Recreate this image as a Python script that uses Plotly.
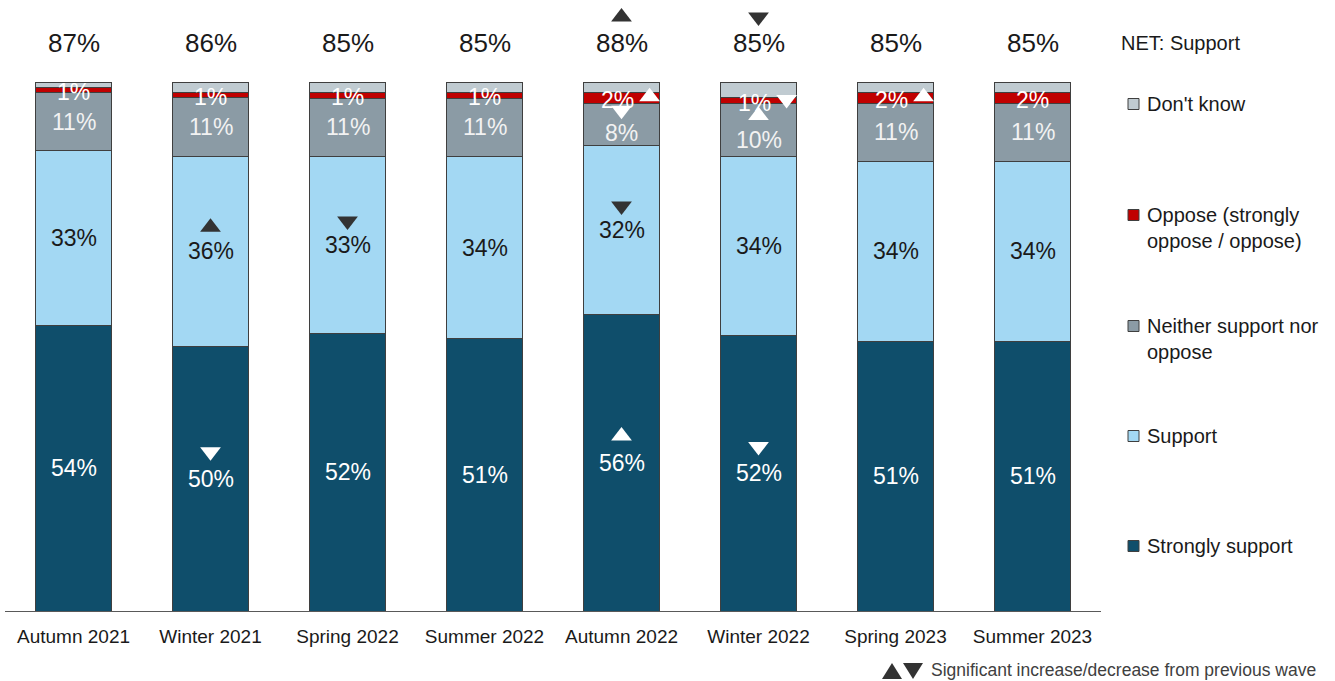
import plotly.graph_objects as go

# ---------------- data ----------------
waves = ["Autumn 2021", "Winter 2021", "Spring 2022", "Summer 2022",
         "Autumn 2022", "Winter 2022", "Spring 2023", "Summer 2023"]
strongly_support = [54, 50, 52, 51, 56, 52, 51, 51]
support = [33, 36, 33, 34, 32, 34, 34, 34]
neither = [11, 11, 11, 11, 8, 10, 11, 11]
oppose = [1, 1, 1, 1, 2, 1, 2, 2]
dont_know = [1, 2, 2, 2, 2, 3, 2, 2]
net_support = [87, 86, 85, 85, 88, 85, 85, 85]

# significance vs previous wave: "up", "down" or None
sig_net = [None, None, None, None, "up", "down", None, None]
sig_strongly = [None, "down", None, None, "up", "down", None, None]
sig_support = [None, "up", "down", None, "down", None, None, None]
sig_neither = [None, None, None, None, "down", "up", None, None]
sig_oppose = [None, None, None, None, "up", "down", "up", None]

series_names = ["Strongly support", "Support", "Neither support nor<br>oppose",
                "Oppose (strongly<br>oppose / oppose)", "Don't know"]

# ---------------- style ----------------
C_STRONG = "#0F4E6B"
C_SUPPORT = "#A3D8F3"
C_NEITHER = "#8B9BA5"
C_OPPOSE = "#C00000"
C_DK = "#C0CBD1"
C_EDGE = "#3F3F3F"
C_DARK_TRI = "#333333"
FONT = "Liberation Sans, Arial, sans-serif"

W, H = 1335, 681
ML, MR, MT, MB = 5, 234, 0, 70
PW = W - ML - MR
PH = H - MT - MB
Y_TOP = 115.5
PX_PER_UNIT = PH / Y_TOP


def px_x(px):
    return (px - ML) / PW


def px_y(py):
    return (H - MB - py) / PH


def unit_from_px(p):
    return p / PX_PER_UNIT


fig = go.Figure()

series = [
    (series_names[0], strongly_support, C_STRONG, "#ffffff", True),
    (series_names[1], support, C_SUPPORT, "#1a1a1a", True),
    (series_names[2], neither, C_NEITHER, "#f2f2f2", True),
    (series_names[3], oppose, C_OPPOSE, "#ffffff", True),
    (series_names[4], dont_know, C_DK, "#ffffff", False),
]

x_idx = list(range(len(waves)))
for name, vals, col, tcol, lab in series:
    fig.add_trace(go.Bar(
        x=x_idx, y=vals, name=name, marker=dict(color=col, line=dict(color=C_EDGE, width=1)),
        width=0.56, showlegend=False, hoverinfo="skip",
    ))

fig.update_layout(barmode="stack", barnorm="percent")

# normalized cumulative positions (same as barnorm)
totals = [sum(v) for v in zip(strongly_support, support, neither, oppose, dont_know)]
cum = [0.0] * len(waves)
mids = []
for name, vals, col, tcol, lab in series:
    m = []
    for i, v in enumerate(vals):
        n = v * 100.0 / totals[i]
        m.append(cum[i] + n / 2)
        cum[i] += n
    mids.append(m)

annotations = []
label_shift = {2: [0, 0, 0, 0, -9, -10, 0, 0], 3: [-2] * 8}
for s, (name, vals, col, tcol, lab) in enumerate(series):
    if not lab:
        continue
    for i, v in enumerate(vals):
        ysh = label_shift.get(s, [0] * 8)[i]
        xoff = -0.03 if s == 3 and sig_oppose[i] else 0
        annotations.append(dict(
            x=i + xoff, y=mids[s][i], xref="x", yref="y", text=f"{v}%", showarrow=False,
            yanchor="middle", font=dict(family=FONT, size=23, color=tcol), yshift=ysh,
        ))

# significance triangles within bars
tri_x, tri_y, tri_sym, tri_col = [], [], [], []
sig_specs = [
    (0, sig_strongly, 0.0, 27, "#ffffff"),
    (1, sig_support, 0.0, 24, C_DARK_TRI),
    (2, sig_neither, 0.0, 14, "#ffffff"),
    (3, sig_oppose, 0.205, 1, "#ffffff"),
]
for s, sig, dx, dy_px, col in sig_specs:
    for i, d in enumerate(sig):
        if d is None:
            continue
        tri_x.append(i + dx)
        tri_y.append(mids[s][i] + unit_from_px(dy_px))
        tri_sym.append("triangle-up" if d == "up" else "triangle-down")
        tri_col.append(col)

# net support labels and their triangles
net_y = unit_from_px(H - MB - 43)
for i, v in enumerate(net_support):
    annotations.append(dict(
        x=i, y=net_y, xref="x", yref="y", text=f"{v}%", showarrow=False,
        yanchor="middle", font=dict(family=FONT, size=26, color="#1a1a1a"),
    ))
    if sig_net[i]:
        tri_x.append(i)
        tri_y.append(unit_from_px(H - MB - 17))
        tri_sym.append("triangle-up" if sig_net[i] == "up" else "triangle-down")
        tri_col.append(C_DARK_TRI)

fig.add_trace(go.Scatter(
    x=tri_x, y=tri_y, mode="markers", showlegend=False, hoverinfo="skip",
    marker=dict(symbol=tri_sym, size=18, color=tri_col, line=dict(width=0)),
    cliponaxis=False,
))

annotations.append(dict(
    x=px_x(1119), y=px_y(43), xref="paper", yref="paper", text="NET: Support",
    showarrow=False, xanchor="left", yanchor="middle",
    font=dict(family=FONT, size=20, color="#1a1a1a"),
))

# manual legend (top to bottom: Don't know ... Strongly support)
leg_rows = [(series_names[4], C_DK, 104), (series_names[3], C_OPPOSE, 215),
            (series_names[2], C_NEITHER, 326), (series_names[1], C_SUPPORT, 436),
            (series_names[0], C_STRONG, 546)]
shapes = []
for name, col, yc in leg_rows:
    shapes.append(dict(
        type="rect", xref="paper", yref="paper",
        x0=px_x(1128), x1=px_x(1139), y0=px_y(yc + 5.5), y1=px_y(yc - 5.5),
        fillcolor=col, line=dict(color=C_EDGE, width=1),
    ))
    annotations.append(dict(
        x=px_x(1145), y=px_y(yc - 13), xref="paper", yref="paper", text=name,
        showarrow=False, xanchor="left", yanchor="top", align="left",
        font=dict(family=FONT, size=20, color="#1a1a1a"),
    ))

# footnote key: two triangles + text
def tri_path(x0, x1, ytop, ybot, up):
    xa, xb, xm = px_x(x0), px_x(x1), px_x((x0 + x1) / 2)
    yt, yb = px_y(ytop), px_y(ybot)
    if up:
        return f"M{xa},{yb} L{xb},{yb} L{xm},{yt} Z"
    return f"M{xa},{yt} L{xb},{yt} L{xm},{yb} Z"


shapes.append(dict(type="path", xref="paper", yref="paper",
                   path=tri_path(882, 902, 663, 679, True),
                   fillcolor=C_DARK_TRI, line=dict(width=0)))
shapes.append(dict(type="path", xref="paper", yref="paper",
                   path=tri_path(903, 923, 663, 679, False),
                   fillcolor=C_DARK_TRI, line=dict(width=0)))
annotations.append(dict(
    x=px_x(1318), y=px_y(670), xref="paper", yref="paper",
    text="Significant increase/decrease from previous wave",
    showarrow=False, xanchor="right", yanchor="middle",
    font=dict(family=FONT, size=17.5, color="#404040"),
))

fig.update_layout(
    width=W, height=H,
    margin=dict(l=ML, r=MR, t=MT, b=MB),
    paper_bgcolor="white", plot_bgcolor="white",
    bargap=0.44,
    annotations=annotations,
    shapes=shapes,
    xaxis=dict(
        tickmode="array", tickvals=x_idx, ticktext=waves, range=[-0.5, 7.5],
        showline=True, linecolor="#595959", linewidth=1, ticks="", showgrid=False,
        zeroline=False, tickfont=dict(family=FONT, size=19, color="#1a1a1a"),
        ticklabelstandoff=8, fixedrange=True,
    ),
    yaxis=dict(range=[0, Y_TOP], visible=False, showgrid=False, zeroline=False, fixedrange=True),
)

fig.write_html("out.html", config={"displayModeBar": False},
               post_script="document.body.style.margin='0';")
